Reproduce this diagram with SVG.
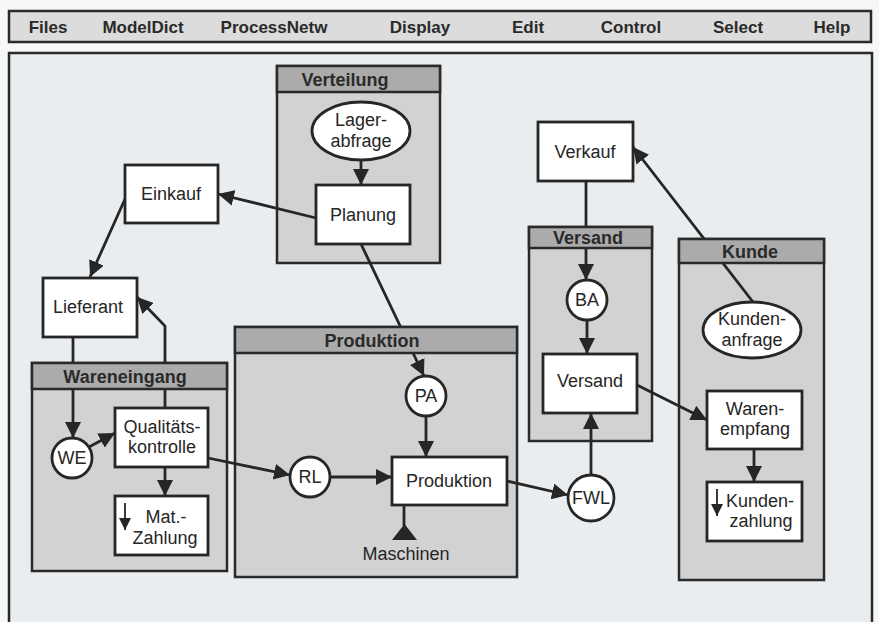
<svg xmlns="http://www.w3.org/2000/svg" width="879" height="622" viewBox="0 0 879 622">
<defs>
<marker id="ah" markerUnits="userSpaceOnUse" markerWidth="17" markerHeight="16" refX="16" refY="8" orient="auto"><path d="M0,0 L16,8 L0,16 z" fill="#262626"/></marker>
<marker id="sm" markerUnits="userSpaceOnUse" markerWidth="13" markerHeight="12" refX="12" refY="6" orient="auto"><path d="M0,0 L12,6 L0,12 z" fill="#262626"/></marker>
<style>
.menu{font-family:"Liberation Sans",Arial,sans-serif;font-weight:bold;font-size:17px;fill:#2a2a2a;text-anchor:middle}
.hd{font-family:"Liberation Sans",Arial,sans-serif;font-weight:bold;font-size:18px;fill:#2a2a2a;text-anchor:middle}
.t{font-family:"Liberation Sans",Arial,sans-serif;font-size:18px;fill:#262626;text-anchor:middle}
.cb{fill:#d2d2d2;stroke:#2a2a2a;stroke-width:2.5}
.ch{fill:#ababab;stroke:#2a2a2a;stroke-width:2.5}
.n{fill:#ffffff;stroke:#262626;stroke-width:2.8}
.c{fill:none;stroke:#262626;stroke-width:2.8;marker-end:url(#ah)}
.l{fill:none;stroke:#262626;stroke-width:2.8}
.s{fill:none;stroke:#262626;stroke-width:1.8;marker-end:url(#sm)}
</style>
</defs>
<rect width="879" height="622" fill="#f6f7f7"/>
<g id="menubar">
<rect x="9" y="11" width="862" height="31" fill="#dcdcdc" stroke="#2a2a2a" stroke-width="2.5"/>
<text class="menu" x="48" y="33">Files</text>
<text class="menu" x="143" y="33">ModelDict</text>
<text class="menu" x="274" y="33">ProcessNetw</text>
<text class="menu" x="420" y="33">Display</text>
<text class="menu" x="528" y="33">Edit</text>
<text class="menu" x="631" y="33">Control</text>
<text class="menu" x="738" y="33">Select</text>
<text class="menu" x="832" y="33">Help</text>
</g>
<rect id="panel" x="9" y="53" width="863" height="580" fill="#e9edef" stroke="#2a2a2a" stroke-width="2.5"/>

<g id="verteilung">
<rect class="cb" x="277" y="66" width="163" height="197"/>
</g>
<g id="produktion-bereich">
<rect class="cb" x="235" y="327" width="282" height="250"/>
</g>
<g id="wareneingang">
<rect class="cb" x="32" y="363" width="195" height="208"/>
</g>
<g id="versand-bereich">
<rect class="cb" x="529" y="227" width="123" height="214"/>
</g>
<g id="kunde">
<rect class="cb" x="679" y="239" width="145" height="341"/>
</g>

<g id="connectors">
<path class="c" d="M361,160 L361,185"/>
<path class="c" d="M316,218 L218,194"/>
<path class="c" d="M125,199 L90,277"/>
<path class="c" d="M361,244 L424,376"/>
<path class="c" d="M73,337 L73,438"/>
<path class="c" d="M165,408 L165,326 L137,297"/>
<path class="c" d="M89,447 L115,433"/>
<path class="c" d="M165,467 L165,496"/>
<path class="c" d="M208,458 L290,475"/>
<path class="c" d="M330,477 L392,477"/>
<path class="c" d="M426,416 L426,457"/>
<path class="l" d="M404,505 L404,526"/>
<polygon points="392,540 417,540 404.5,524" fill="#262626"/>
<path class="c" d="M507,481 L568,495"/>
<path class="c" d="M591,475 L591,413"/>
<path class="c" d="M586,181 L586,280"/>
<path class="c" d="M587,320 L587,354"/>
<path class="c" d="M637,385 L707,420"/>
<path class="c" d="M753,302 L633,147"/>
<path class="c" d="M754,449 L754,482"/>
</g>

<g id="verteilung-header">
<rect class="ch" x="277" y="66" width="163" height="26"/>
<text class="hd" x="345" y="86">Verteilung</text>
</g>
<g id="produktion-header">
<rect class="ch" x="235" y="327" width="282" height="26"/>
<text class="hd" x="372" y="347">Produktion</text>
</g>
<g id="wareneingang-header">
<rect class="ch" x="32" y="363" width="195" height="26"/>
<text class="hd" x="125" y="383">Wareneingang</text>
</g>
<g id="versand-header">
<rect class="ch" x="529" y="227" width="123" height="21"/>
<text class="hd" x="588" y="244">Versand</text>
</g>
<g id="kunde-header">
<rect class="ch" x="679" y="239" width="145" height="24"/>
<text class="hd" x="750" y="258">Kunde</text>
</g>

<g id="lagerabfrage">
<ellipse class="n" cx="361" cy="131" rx="49" ry="29"/>
<text class="t" x="361" y="126">Lager-</text>
<text class="t" x="361" y="147">abfrage</text>
</g>
<g id="planung">
<rect class="n" x="316" y="185" width="94" height="59"/>
<text class="t" x="363" y="221">Planung</text>
</g>
<g id="einkauf">
<rect class="n" x="125" y="165" width="93" height="58"/>
<text class="t" x="171" y="200">Einkauf</text>
</g>
<g id="lieferant">
<rect class="n" x="43" y="278" width="94" height="59"/>
<text class="t" x="88" y="313">Lieferant</text>
</g>
<g id="we">
<circle class="n" cx="72" cy="458" r="20"/>
<text class="t" x="72" y="464">WE</text>
</g>
<g id="qualitaetskontrolle">
<rect class="n" x="115" y="408" width="93" height="59"/>
<text class="t" x="162" y="433">Qualitäts-</text>
<text class="t" x="162" y="453">kontrolle</text>
</g>
<g id="mat-zahlung">
<rect class="n" x="115" y="496" width="93" height="59"/>
<path class="s" d="M125,503 L125,530"/>
<text class="t" x="166" y="523">Mat.-</text>
<text class="t" x="165" y="544">Zahlung</text>
</g>
<g id="pa">
<circle class="n" cx="426" cy="396" r="20"/>
<text class="t" x="426" y="402">PA</text>
</g>
<g id="rl">
<circle class="n" cx="310" cy="477" r="20"/>
<text class="t" x="310" y="483">RL</text>
</g>
<g id="produktion">
<rect class="n" x="392" y="457" width="115" height="48"/>
<text class="t" x="449" y="487">Produktion</text>
</g>
<g id="maschinen">
<text class="t" x="406" y="560">Maschinen</text>
</g>
<g id="fwl">
<circle class="n" cx="591" cy="498" r="23"/>
<text class="t" x="591" y="504">FWL</text>
</g>
<g id="verkauf">
<rect class="n" x="538" y="122" width="95" height="59"/>
<text class="t" x="585" y="158">Verkauf</text>
</g>
<g id="ba">
<circle class="n" cx="587" cy="300" r="20"/>
<text class="t" x="587" y="306">BA</text>
</g>
<g id="versand">
<rect class="n" x="543" y="354" width="94" height="59"/>
<text class="t" x="590" y="387">Versand</text>
</g>
<g id="kundenanfrage">
<ellipse class="n" cx="752" cy="330" rx="49" ry="28"/>
<text class="t" x="752" y="325">Kunden-</text>
<text class="t" x="752" y="346">anfrage</text>
</g>
<g id="warenempfang">
<rect class="n" x="707" y="391" width="95" height="58"/>
<text class="t" x="755" y="415">Waren-</text>
<text class="t" x="755" y="435">empfang</text>
</g>
<g id="kundenzahlung">
<rect class="n" x="707" y="482" width="95" height="59"/>
<path class="s" d="M717,489 L717,516"/>
<text class="t" x="760" y="507">Kunden-</text>
<text class="t" x="761" y="527">zahlung</text>
</g>
</svg>
